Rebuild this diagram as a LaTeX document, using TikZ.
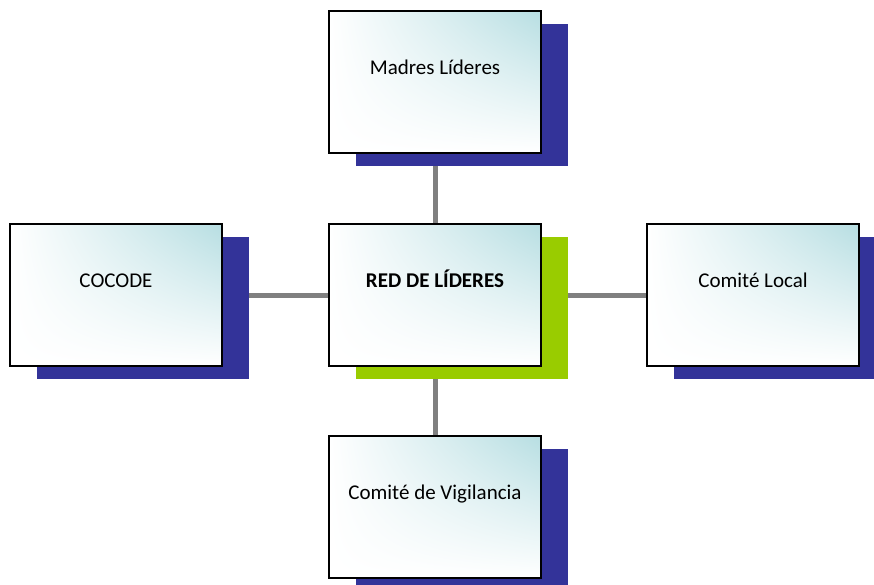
\documentclass[tikz,border=0pt]{standalone}
\usepackage{fontspec}
\setmainfont{Carlito}
\usepackage{tikz}
\usetikzlibrary{shadows,shadings}
\usetikzlibrary{backgrounds}

\definecolor{sombra}{RGB}{51,51,153}
\definecolor{verde}{RGB}{153,204,0}
\definecolor{celeste}{RGB}{183,222,226}
\definecolor{gris}{RGB}{128,128,128}

\tikzset{
  caja/.style={draw=black, line width=1.4pt, inner sep=0pt,
    minimum width=212pt, text height=63pt, text depth=79pt,
    font=\fontsize{21}{25}\selectfont,
    upper right=celeste, upper left=white, lower left=white, lower right=white,
    drop shadow={shadow xshift=27pt, shadow yshift=-13pt, fill=#1, opacity=1}},
  caja/.default=sombra,
  enlace/.style={draw=gris, line width=5pt}
}

\begin{document}
\begin{tikzpicture}[x=1pt,y=1pt]%,cap=round,>=latex]

\useasboundingbox (0,0) rectangle (874,-584);
\clip (0,0) rectangle (874,-584);

\node [caja] (madres) at (435,-82) {Madres Líderes};
\node [caja=verde] (red) at (435,-295) {\textbf{RED DE LÍDERES}};
\node [caja] (cocode) at (116,-295) {COCODE};
\node [caja] (comite) at (753,-295) {Comité Local};
\node [caja] (vigilancia) at (435,-507) {Comité de Vigilancia};

\begin{scope}[on background layer]
\draw [enlace] (madres) -- (red);
\draw [enlace] (red) -- (vigilancia);
\draw [enlace] (cocode) -- (red);
\draw [enlace] (red) -- (comite);
\end{scope}

\end{tikzpicture}
\end{document}
